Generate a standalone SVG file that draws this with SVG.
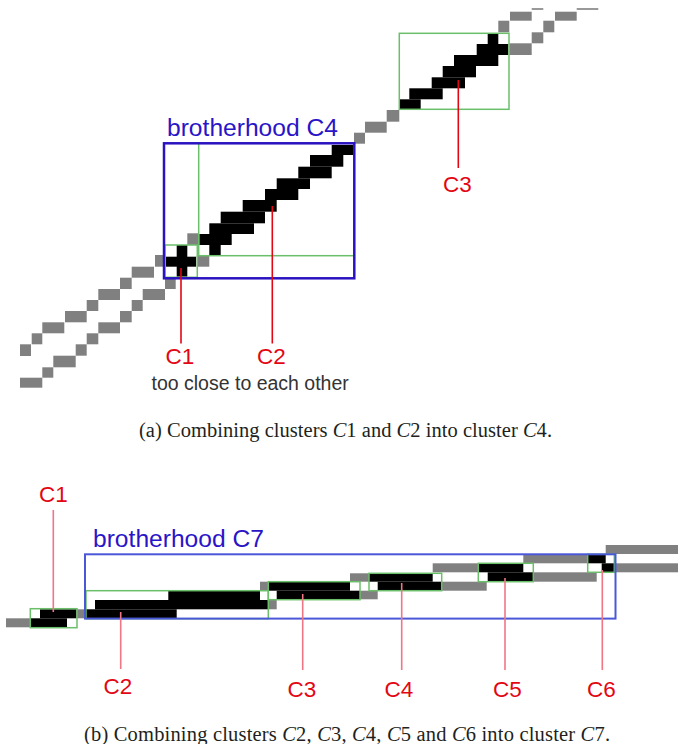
<svg xmlns="http://www.w3.org/2000/svg" width="678" height="744" viewBox="0 0 678 744">
<style>
.g{fill:#808080}
.k{fill:#000}
.gb{fill:none;stroke:#6bbf6b;stroke-width:1.5}
.ba{fill:none;stroke:#2a12c0;stroke-width:2.5}
.bb{fill:none;stroke:#4a58d8;stroke-width:2}
.ra{stroke:#e30613;stroke-width:1.6;fill:none}
.rb{stroke:#f07585;stroke-width:1.6;fill:none}
.lab{font-family:"Liberation Sans",Arial,sans-serif;font-size:22.5px;fill:#e30613;text-anchor:middle}
.bro{font-family:"Liberation Sans",Arial,sans-serif;font-size:24.6px;fill:#2a14c8}
.note{font-family:"Liberation Sans",Arial,sans-serif;font-size:19.5px;fill:#333}
.cap{font-family:"Liberation Serif","Times New Roman",serif;font-size:20.5px;fill:#231f20}
.it{font-style:italic}
</style>
<rect width="678" height="744" fill="#fff"/>

<!-- (a) background pixel lines -->
<g id="a-pixels">
<rect class="g" x="531.7" y="8.2" width="11.6" height="1.6"/>
<rect class="g" x="576.7" y="8.2" width="21.6" height="1.6"/>
<rect class="g" x="510" y="11.7" width="21.7" height="9"/>
<rect class="g" x="555" y="11.7" width="21.7" height="9"/>
<rect class="g" x="498.3" y="20.7" width="11" height="11.6"/>
<rect class="g" x="543.3" y="20.7" width="11" height="11.6"/>
<rect class="g" x="531.7" y="32.3" width="11.6" height="11"/>
<rect class="g" x="509.3" y="43.3" width="22.4" height="11.7"/>
<rect class="g" x="386.7" y="110" width="12.6" height="11.7"/>
<rect class="g" x="365" y="121.7" width="21.7" height="11"/>
<rect class="g" x="354" y="132.7" width="11" height="11"/>
<rect class="g" x="187.3" y="233.3" width="11" height="11.7"/>
<rect class="g" x="196.7" y="255.7" width="12.6" height="11"/>
<rect class="g" x="155" y="255" width="10" height="11.7"/>
<rect class="g" x="165" y="277.7" width="10.7" height="11.3"/>
<rect class="g" x="131.7" y="266.7" width="22.3" height="11"/>
<rect class="g" x="120" y="277.7" width="11.7" height="11.3"/>
<rect class="g" x="98.3" y="289" width="21.7" height="11"/>
<rect class="g" x="86.7" y="300" width="11.6" height="11"/>
<rect class="g" x="65" y="311" width="21.7" height="11.3"/>
<rect class="g" x="42.3" y="322.3" width="22" height="11"/>
<rect class="g" x="31.7" y="333.3" width="10.6" height="11"/>
<rect class="g" x="20" y="344.3" width="11" height="11.7"/>
<rect class="g" x="142.7" y="289" width="22.3" height="11"/>
<rect class="g" x="131.7" y="300" width="11" height="11"/>
<rect class="g" x="120" y="311" width="11.7" height="11.3"/>
<rect class="g" x="98.3" y="322.3" width="21.7" height="11"/>
<rect class="g" x="86.7" y="333.3" width="11.6" height="11"/>
<rect class="g" x="75.7" y="344.3" width="11" height="11.4"/>
<rect class="g" x="53.3" y="355.7" width="22.4" height="11.6"/>
<rect class="g" x="42.3" y="367.3" width="11" height="10.4"/>
<rect class="g" x="20" y="377.7" width="22.3" height="10"/>
</g>

<g id="a-C3">
<rect class="k" x="487.7" y="33.3" width="10.6" height="10.7"/>
<rect class="k" x="476.7" y="44" width="31.6" height="11"/>
<rect class="k" x="454" y="55" width="44.3" height="11"/>
<rect class="k" x="442.7" y="66" width="33.3" height="11.3"/>
<rect class="k" x="431.7" y="77.3" width="33.3" height="11"/>
<rect class="k" x="409.3" y="88.3" width="33.4" height="11"/>
<rect class="k" x="399.3" y="99.3" width="21.4" height="10"/>
<rect class="gb" x="399.3" y="33.3" width="109.7" height="76"/>
</g>

<g id="a-C2">
<rect class="k" x="331.7" y="145" width="21.6" height="10"/>
<rect class="k" x="310" y="155" width="33.3" height="11.7"/>
<rect class="k" x="298.3" y="166.7" width="33.4" height="11.6"/>
<rect class="k" x="276.7" y="178.3" width="33.3" height="10.7"/>
<rect class="k" x="265" y="189" width="33.3" height="11"/>
<rect class="k" x="242.7" y="200" width="34" height="11.7"/>
<rect class="k" x="220.7" y="211.7" width="44.3" height="11.6"/>
<rect class="k" x="209.3" y="223.3" width="44.7" height="10.7"/>
<rect class="k" x="199.3" y="234" width="32.4" height="11"/>
<rect class="k" x="209.3" y="245" width="11.4" height="10.7"/>
<rect class="gb" x="198.7" y="143.3" width="155.6" height="112.4"/>
</g>

<g id="a-C1">
<rect class="k" x="166" y="256.7" width="30" height="10"/>
<rect class="k" x="176.7" y="245" width="10.6" height="31.7"/>
<rect class="gb" x="165" y="245" width="32.3" height="32.3"/>
</g>

<g id="a-C4">
<rect class="ba" x="164" y="143.3" width="190.3" height="135"/>
<text class="bro" x="167" y="136">brotherhood C4</text>
</g>

<g id="a-connectors">
<line class="ra" x1="181" y1="268" x2="181" y2="343.5"/>
<line class="ra" x1="272.3" y1="206" x2="272.3" y2="343.5"/>
<line class="ra" x1="458.3" y1="80" x2="458.3" y2="168"/>
</g>

<g id="a-labels">
<text class="lab" x="180" y="364.3">C1</text>
<text class="lab" x="271.3" y="364.3">C2</text>
<text class="lab" x="457.5" y="192">C3</text>
<text class="note" x="151.5" y="390">too close to each other</text>
<text class="cap" x="139" y="437.3" textLength="413" lengthAdjust="spacing">(a) Combining clusters <tspan class="it">C</tspan>1 and <tspan class="it">C</tspan>2 into cluster <tspan class="it">C</tspan>4.</text>
</g>

<!-- (b) -->
<g id="b-pixels">
<rect class="g" x="6" y="618.3" width="25" height="9"/>
<rect class="g" x="76" y="609.3" width="10" height="9"/>
<rect class="g" x="260" y="581.7" width="8.3" height="9"/>
<rect class="g" x="268.3" y="600" width="8.4" height="9.3"/>
<rect class="g" x="350" y="573.3" width="19" height="8.4"/>
<rect class="g" x="360" y="590.7" width="17.7" height="8.6"/>
<rect class="g" x="432.7" y="563.3" width="45.6" height="9"/>
<rect class="g" x="441.7" y="581.7" width="45" height="9"/>
<rect class="g" x="523.3" y="554.3" width="65" height="9"/>
<rect class="g" x="532.7" y="572.3" width="64" height="9.4"/>
<rect class="g" x="605.7" y="545" width="72.3" height="9"/>
<rect class="g" x="614.3" y="563.3" width="63.7" height="9"/>
</g>

<g id="b-C1">
<rect class="k" x="40" y="609.3" width="36" height="9"/>
<rect class="k" x="31" y="618.3" width="36" height="9"/>
<rect class="gb" x="30.3" y="608.7" width="46.7" height="19"/>
</g>

<g id="b-C2">
<rect class="k" x="168.3" y="590.7" width="91.7" height="9.3"/>
<rect class="k" x="95" y="600" width="173.3" height="9.3"/>
<rect class="k" x="86" y="609.3" width="90.7" height="9"/>
<rect class="gb" x="86" y="590.7" width="182.3" height="28"/>
</g>

<g id="b-C3">
<rect class="k" x="268.3" y="581.7" width="81.7" height="9"/>
<rect class="k" x="276.7" y="590.7" width="83.3" height="9"/>
<rect class="gb" x="268.3" y="581.7" width="91.7" height="18"/>
</g>

<g id="b-C4">
<rect class="k" x="369" y="573.3" width="63.7" height="8.4"/>
<rect class="k" x="377.7" y="581.7" width="64" height="9"/>
<rect class="gb" x="369" y="573.3" width="72.7" height="17.4"/>
</g>

<g id="b-C5">
<rect class="k" x="478.3" y="563.3" width="45" height="9"/>
<rect class="k" x="487.7" y="572.3" width="45.6" height="9.4"/>
<rect class="gb" x="478.3" y="563.3" width="55" height="18.4"/>
</g>

<g id="b-C6">
<rect class="k" x="588" y="554.3" width="17.7" height="9"/>
<rect class="k" x="601.7" y="563.3" width="12.6" height="9"/>
<rect class="gb" x="587.7" y="554.3" width="26.6" height="18"/>
</g>

<g id="b-C7">
<rect class="bb" x="85" y="554.3" width="530.5" height="64.3"/>
<text class="bro" x="93" y="547.3">brotherhood C7</text>
</g>

<g id="b-connectors">
<line class="rb" x1="53.3" y1="510" x2="53.3" y2="612"/>
<line class="rb" x1="120.7" y1="612" x2="120.7" y2="669"/>
<line class="rb" x1="302.7" y1="594" x2="302.7" y2="670"/>
<line class="rb" x1="401.7" y1="583" x2="401.7" y2="670"/>
<line class="rb" x1="505" y1="578" x2="505" y2="670"/>
<line class="rb" x1="602.3" y1="570" x2="602.3" y2="670"/>
</g>

<g id="b-labels">
<text class="lab" x="53.3" y="501.7">C1</text>
<text class="lab" x="118" y="693.8">C2</text>
<text class="lab" x="302" y="697">C3</text>
<text class="lab" x="399" y="697">C4</text>
<text class="lab" x="507.5" y="697">C5</text>
<text class="lab" x="601.5" y="697">C6</text>
<text class="cap" x="84" y="741" textLength="526" lengthAdjust="spacing">(b) Combining clusters <tspan class="it">C</tspan>2, <tspan class="it">C</tspan>3, <tspan class="it">C</tspan>4, <tspan class="it">C</tspan>5 and <tspan class="it">C</tspan>6 into cluster <tspan class="it">C</tspan>7.</text>
</g>
</svg>
